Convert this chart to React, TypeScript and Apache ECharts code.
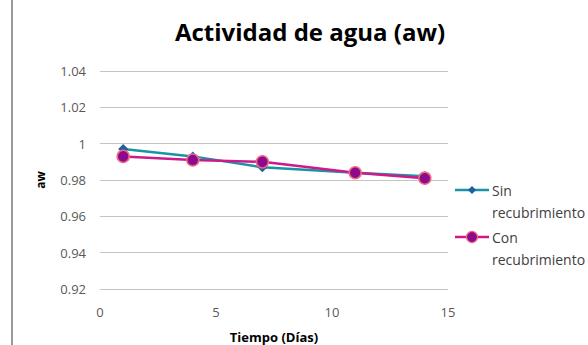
import React, { useEffect, useRef } from "react";
import * as echarts from "echarts";

const days = [1, 4, 7, 11, 14];
const sinRecubrimiento = [0.997, 0.993, 0.987, 0.984, 0.982];
const conRecubrimiento = [0.993, 0.991, 0.990, 0.984, 0.981];
const seriesNames = ["Sin recubrimiento", "Con recubrimiento"];
const legendLines = [["Sin", "recubrimiento"], ["Con", "recubrimiento"]];

export default function App() {
  const ref = useRef<HTMLDivElement>(null);
  useEffect(() => {
    const chart = echarts.init(ref.current!, undefined, { renderer: "svg" });
    const font = "'Open Sans', Lato, sans-serif";
    const sinLine = "#1a93a6";
    const sinMark = "#1f5f9e";
    const conLine = "#cc1a8c";
    const conMark = "#8c0a8c";
    chart.setOption({
      animation: false,
      backgroundColor: "#ffffff",
      title: {
        text: "Actividad de agua (aw)",
        left: 305,
        textAlign: "center",
        top: 14,
        textStyle: { fontFamily: font, fontSize: 24, fontWeight: "bold", color: "#000" },
      },
      grid: { left: 100, right: 140, top: 71, bottom: 56, outerBoundsMode: "none", containLabel: false },
      xAxis: {
        type: "value",
        min: 0,
        max: 15,
        interval: 5,
        name: "Tiempo (Días)",
        nameLocation: "middle",
        nameGap: 41,
        nameTextStyle: { fontFamily: font, fontSize: 13, fontWeight: "bold", color: "#000" },
        axisLine: { show: false },
        axisTick: { show: false },
        splitLine: { show: false },
        axisLabel: { fontFamily: font, fontSize: 13, color: "#595959", margin: 16 },
      },
      yAxis: {
        type: "value",
        min: 0.92,
        max: 1.04,
        interval: 0.02,
        name: "aw",
        nameLocation: "middle",
        nameGap: 54,
        nameRotate: 90,
        nameTextStyle: { fontFamily: font, fontSize: 12, fontWeight: "bold", color: "#000" },
        axisLine: { show: false },
        axisTick: { show: false },
        splitLine: { lineStyle: { color: "#c4c4c4", width: 1 } },
        axisLabel: {
          fontFamily: font,
          fontSize: 13,
          color: "#595959",
          margin: 14,
          formatter: (v: number) => String(Math.round(v * 100) / 100),
        },
      },
      series: [
        {
          name: seriesNames[0],
          type: "line",
          data: days.map((d, i) => [d, sinRecubrimiento[i]]),
          symbol: "diamond",
          symbolSize: 10,
          lineStyle: { color: sinLine, width: 2.5 },
          itemStyle: { color: sinMark },
        },
        {
          name: seriesNames[1],
          type: "line",
          data: days.map((d, i) => [d, conRecubrimiento[i]]),
          symbol: "circle",
          symbolSize: 12,
          lineStyle: { color: conLine, width: 2.5 },
          itemStyle: { color: conMark, borderColor: "#f06a80", borderWidth: 1.5 },
        },
      ],
      graphic: [
        {
          type: "line",
          shape: { x1: 12, y1: 0, x2: 12, y2: 345 },
          style: { stroke: "#777777", lineWidth: 1.5 },
        },
        {
          type: "group",
          children: [
            { type: "line", shape: { x1: 455, y1: 190, x2: 489, y2: 190 }, style: { stroke: sinLine, lineWidth: 2.5 } },
            { type: "polygon", shape: { points: [[472, 186], [476, 190], [472, 194], [468, 190]] }, style: { fill: sinMark } },
            {
              type: "text",
              x: 492,
              y: 179,
              style: { text: legendLines[0].join("\n"), fontFamily: font, fontSize: 14, lineHeight: 22, fill: "#404040" },
            },
            { type: "line", shape: { x1: 455, y1: 237, x2: 489, y2: 237 }, style: { stroke: conLine, lineWidth: 2.5 } },
            { type: "circle", shape: { cx: 472, cy: 237, r: 5.5 }, style: { fill: conMark, stroke: "#f06a80", lineWidth: 1.2 } },
            {
              type: "text",
              x: 492,
              y: 226,
              style: { text: legendLines[1].join("\n"), fontFamily: font, fontSize: 14, lineHeight: 22, fill: "#404040" },
            },
          ],
        },
      ],
    });
    return () => chart.dispose();
  }, []);
  return (
    <div
      ref={ref}
      style={{ width: 588, height: 345, position: "absolute", left: 0, top: 0, overflow: "hidden" }}
    />
  );
}
